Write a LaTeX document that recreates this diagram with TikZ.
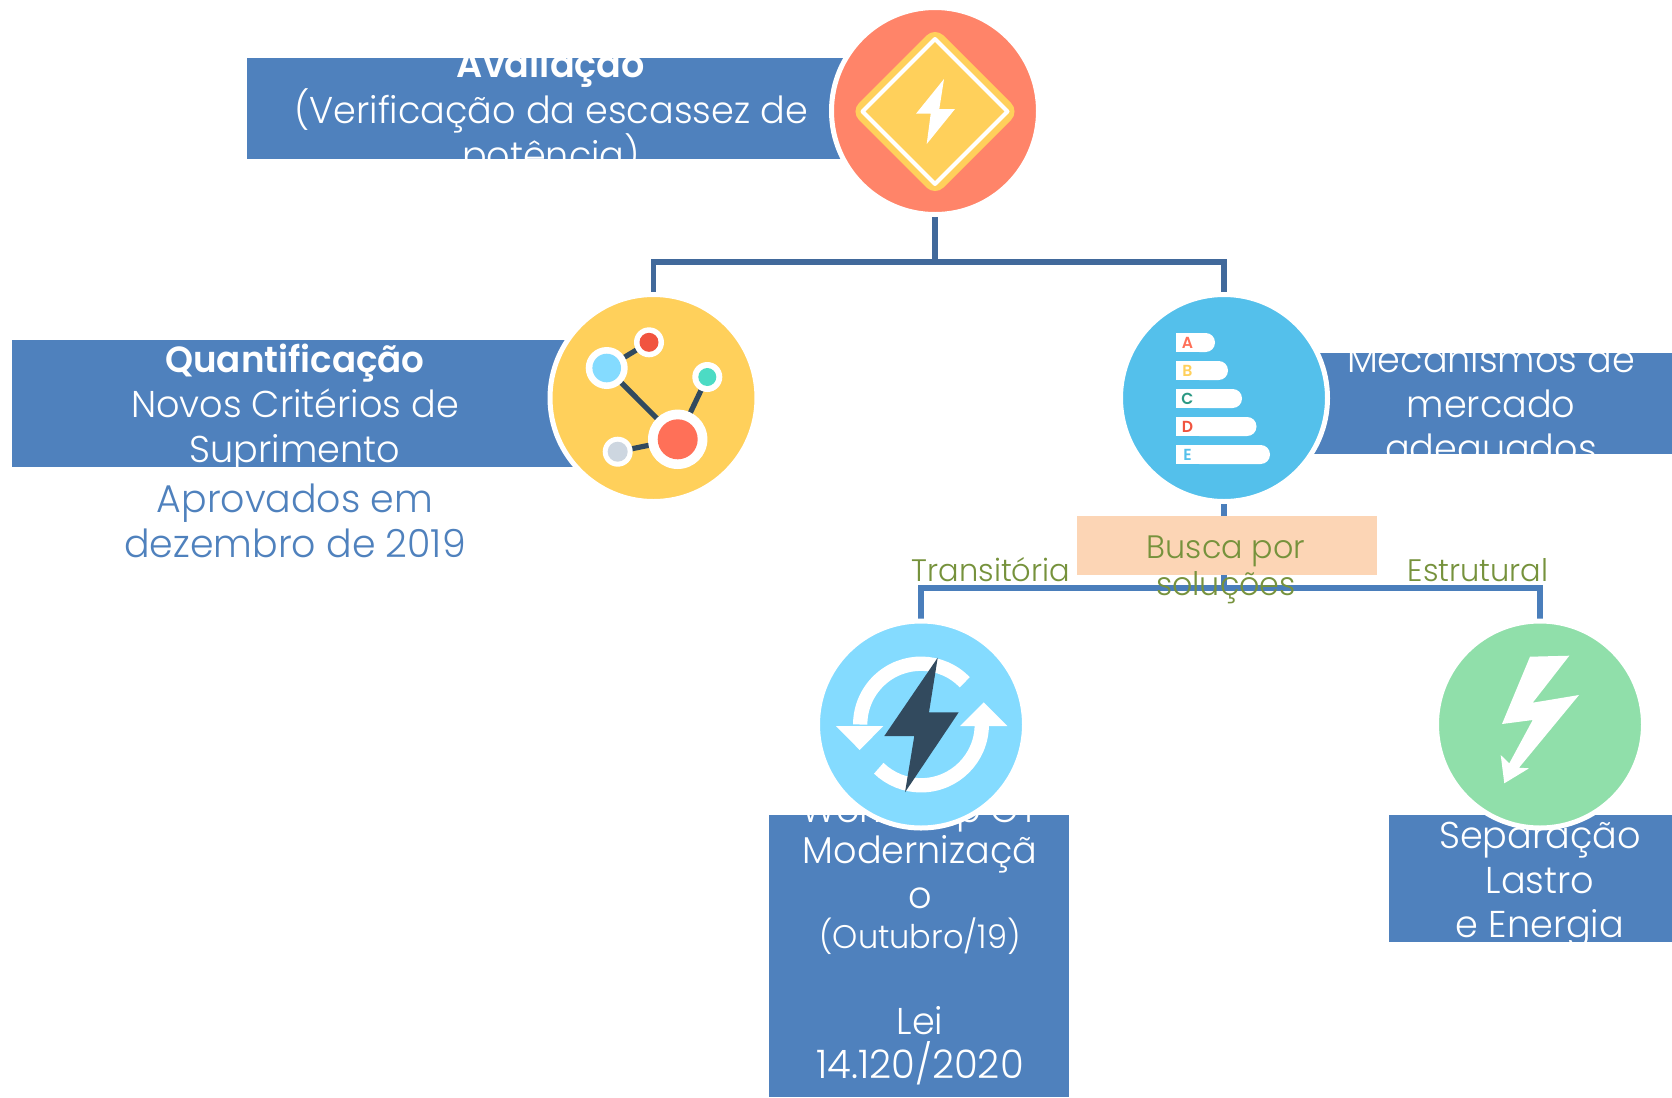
\documentclass[tikz,border=0pt]{standalone}
\usepackage{fontspec}
\setmainfont{Poppins Light}[BoldFont={Poppins SemiBold},FakeStretch=0.98]
\usetikzlibrary{backgrounds,calc}
\newcommand{\px}[1]{#1*0.75pt}
\definecolor{boxblue}{HTML}{4F81BD}
\definecolor{conntop}{HTML}{41699B}
\definecolor{connlow}{HTML}{4A7EBB}
\definecolor{peach}{HTML}{FCD5B5}
\definecolor{olive}{HTML}{76923C}
\definecolor{coral}{HTML}{FF8469}
\definecolor{sun}{HTML}{FFD05B}
\definecolor{sky}{HTML}{54C0EB}
\definecolor{pale}{HTML}{84DBFF}
\definecolor{mint}{HTML}{90DFAA}
\definecolor{navy}{HTML}{324A5E}
\definecolor{dotred}{HTML}{F1543F}
\definecolor{dotteal}{HTML}{4CDBC4}
\definecolor{dotcoral}{HTML}{FF7058}
\definecolor{dotgrey}{HTML}{CDD6E0}
\tikzset{
  x=0.75pt,y=-0.75pt,
  iconcirc/.style={circle,draw=white,line width=3.75pt,minimum size=155.25pt,inner sep=0pt,fill=#1},
  bluebox/.style={rectangle,fill=boxblue,inner sep=0pt},
  boxtext/.style={text=white,align=center,inner sep=0pt,font=\fontsize{28}{33.5}\selectfont},
  conn/.style={line width=4pt,draw=#1},
  greenlabel/.style={text=olive,inner sep=0pt,align=center,font=\fontsize{23.3}{27.75}\selectfont},
  barletter/.style={inner sep=0pt,font=\fontsize{12}{12}\bfseries\selectfont,text=#1},
  wire/.style={draw=navy,line width=3.9pt}
}
\begin{document}
\begin{tikzpicture}
\useasboundingbox (0,0) rectangle (1672,1097);
% circles
\node[iconcirc=coral] (c1) at (935,111) {};
\node[iconcirc=sun] (c2) at (653.5,398) {};
\node[iconcirc=sky] (c3) at (1224,398) {};
\node[iconcirc=pale] (c4) at (921,724.5) {};
\node[iconcirc=mint] (c5) at (1540,724.5) {};
\coordinate (bus1) at (935,262);
\coordinate (bus2) at (1224,588);
\begin{pgfonlayer}{background}
  \fill[white] (0,0) rectangle (1672,1097);
  \draw[conn=conntop] (c1.center) -- (bus1);
  \draw[conn=conntop] (c2.center) |- (bus1) -| (c3.center);
  \draw[conn=connlow] (c3.center) -- (bus2);
  \draw[conn=connlow] (c4.center) |- (bus2) -| (c5.center);
  % boxes
  \node[bluebox,minimum width={\px{653}},minimum height={\px{101}}] (b1) at (573.5,108.5) {};
  \node[bluebox,minimum width={\px{600}},minimum height={\px{127}}] (b2) at (312,403.5) {};
  \node[bluebox,minimum width={\px{372}},minimum height={\px{101}}] (b3) at (1486,403.5) {};
  \node[bluebox,minimum width={\px{300}},minimum height={\px{282}}] (b4) at (919,956) {};
  \node[bluebox,minimum width={\px{283}},minimum height={\px{127}}] (b5) at (1530.5,878.5) {};
  \begin{scope}
    \clip (b1.south west) rectangle (b1.north east);
    \node[boxtext] (t1) at (551,113) {\textbf{Avaliação}\\(Verificação da escassez de\\potência)};
  \end{scope}
  \begin{scope}
    \clip (b2.south west) rectangle (b2.north east);
    \node[boxtext] (t2) at (295,408) {\textbf{\fontsize{27.3}{33.5}\selectfont Quantificação}\\Novos Critérios de\\Suprimento};
  \end{scope}
  \begin{scope}
    \clip (b3.south west) rectangle (b3.north east);
    \node[boxtext] (t3) at (1491,408) {Mecanismos de\\mercado\\adequados};
  \end{scope}
  \begin{scope}
    \clip (b4.south west) rectangle (b4.north east);
    \node[boxtext,anchor=north] (t4) at (920,795) {Workshop GT\\[-3pt]Modernizaçã\\o\\[-3pt]{\fontsize{24.5}{33.5}\selectfont (Outubro/19)}\\[30.5pt]Lei\\{\fontsize{29.5}{33.5}\selectfont 14.120/2020}};
  \end{scope}
  \begin{scope}
    \clip (b5.south west) rectangle (b5.north east);
    \node[boxtext] (t5) at (1540,885) {Separação\\Lastro\\e Energia};
  \end{scope}
  \node[rectangle,fill=peach,inner sep=0pt,minimum width={\px{300}},minimum height={\px{59}}] (pb) at (1227,545.5) {};
\end{pgfonlayer}
% free texts
\node[text=boxblue,align=center,inner sep=0pt,font=\fontsize{29}{33.5}\selectfont] (ap) at (295,521) {Aprovados em\\dezembro de 2019};
\node[greenlabel,font=\fontsize{24.3}{27.75}\selectfont] (busca) at (1226,570) {Busca por\\soluções};
\node[greenlabel] (tr) at (991,570) {Transitória};
\node[greenlabel] (es) at (1478,570) {Estrutural};
% icon 1
\fill[sun,rounded corners=9pt] (935,27) -- (1019.5,111.5) -- (935,196) -- (850.5,111.5) -- cycle;
\draw[white,line width=3pt,line join=round] (935,39) -- (1007.5,111.5) -- (935,184) -- (862.5,111.5) -- cycle;
\fill[white] (944,79) -- (916,113.7) -- (930.7,113.7) -- (926.7,144) -- (955,109) -- (939.3,109) -- cycle;
% icon 2
\draw[wire] (606.7,368) -- (649,342.3);
\draw[wire] (606.7,368) -- (677.7,439.3);
\draw[wire] (707.3,377) -- (677.7,439.3);
\draw[wire] (617.7,451.7) -- (677.7,439.3);
\foreach \cx/\cy/\ro in {606.7/368/21,649/342.3/15,707.3/377/15,677.7/439.3/29.7,617.7/451.7/15}{
  \fill[white] (\cx,\cy) circle[radius={\px{\ro}}];
}
\fill[pale] (606.7,368) circle[radius={\px{14.3}}];
\fill[dotred] (649,342.3) circle[radius={\px{9.5}}];
\fill[dotteal] (707.3,377) circle[radius={\px{9}}];
\fill[dotcoral] (677.7,439.3) circle[radius={\px{20}}];
\fill[dotgrey] (617.7,451.7) circle[radius={\px{10}}];
% icon 3 bars
\foreach \yy/\rr/\ll/\lc in {333/1215/A/FF7058,361/1228/B/FFD05B,389/1242/C/2C9984,417/1256.5/D/F1543F,445/1270/E/54C0EB}{
  \definecolor{lettercol}{HTML}{\lc}
  \fill[white,rounded corners=7pt] (1190,\yy) -- (\rr,\yy) -- (\rr,\yy+19) -- (1190,\yy+19) -- cycle;
  \fill[white] (1176,\yy) rectangle (1200,\yy+19);
  \node[barletter=lettercol] at (1187.5,\yy+9.5) {\ll};
}
% icon 4
\draw[white,line width=10.75pt] ([shift={(44:45.6pt)}]c4.center) arc[start angle=44,end angle=180,radius=45.6pt];
\draw[white,line width=10.75pt] ([shift={(0:45.6pt)}]c4.center) arc[start angle=0,end angle=-134,radius=45.6pt];
\fill[white] (836,726) -- (883.3,726) -- (859.7,750) -- cycle;
\fill[white] (960,726) -- (1007.3,726) -- (983.7,702.3) -- cycle;
\fill[navy] (937.7,657.7) -- (884.3,736) -- (914.3,736) -- (905,792.3) -- (958.7,712.3) -- (929,712.3) -- cycle;
% icon 5
\fill[white] (1530,656.7) -- (1569.3,655.7) -- (1532.7,702.7) -- (1579,695) -- (1519,767.7) -- (1529,768.3) -- (1504.3,783.3) -- (1500.7,755) -- (1509.3,763.3) -- (1532.7,720) -- (1502,724) -- cycle;
\end{tikzpicture}
\end{document}
